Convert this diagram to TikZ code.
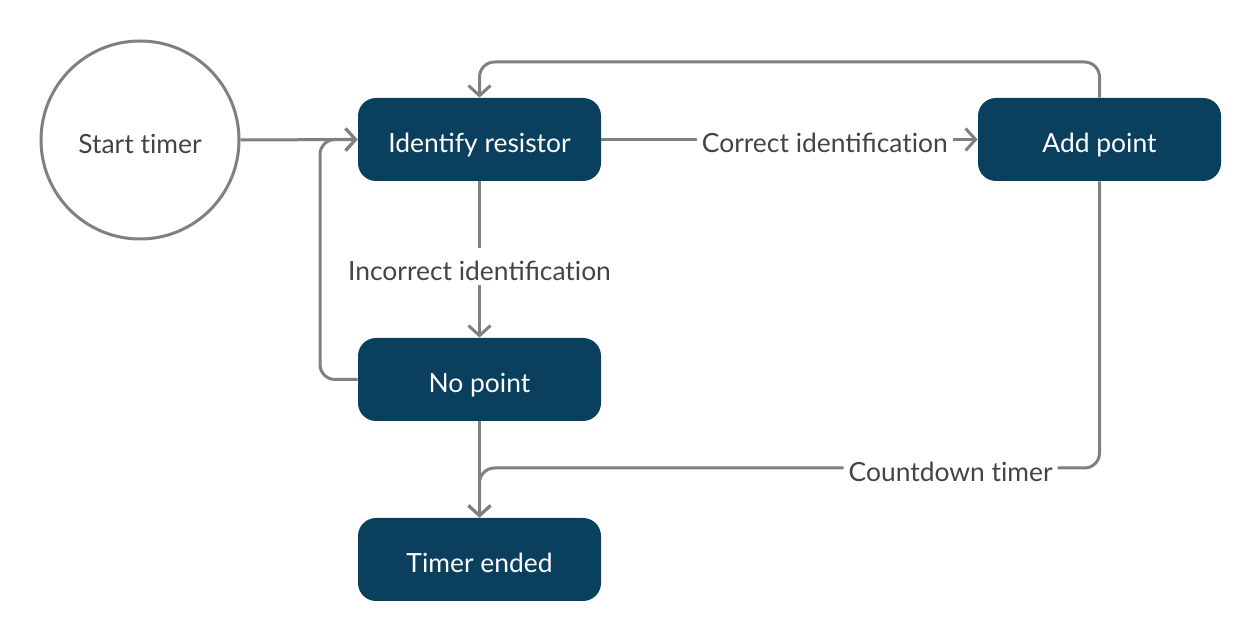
\documentclass[tikz,border=0pt]{standalone}
\usepackage{fontspec}
\setmainfont{Lato}
\usetikzlibrary{arrows.meta}
\definecolor{boxblue}{HTML}{0A3F5E}
\definecolor{linegray}{HTML}{808080}
\definecolor{txtgray}{HTML}{444444}
\newcommand{\tbrk}{t\kern0pt }
\begin{document}
\begin{tikzpicture}[x=0.5pt,y=-0.5pt,
  statebox/.style={draw=none,fill=boxblue,rounded corners=9pt,minimum width=121.5pt,minimum height=41.5pt,text=white,font=\fontsize{13.2}{15}\selectfont,inner sep=0pt,text depth=0pt,text height=13.5pt},
  startcirc/.style={circle,draw=linegray,line width=1.5pt,minimum size=99pt,inner sep=0pt,text=txtgray,font=\fontsize{13.2}{15}\selectfont,text depth=0pt,text height=13.5pt},
  conn/.style={draw=linegray,line width=1.5pt,rounded corners=7.5pt,-{Straight Barb[length=5pt,width=11pt]}},
  lbl/.style={fill=white,text=txtgray,font=\fontsize{13.2}{15}\selectfont,inner sep=2.5pt,text depth=0pt,text height=13.5pt}]
\useasboundingbox (0,0) rectangle (1260,640);
\node[startcirc] (st) at (140,140) {Start \tbrk imer};
\node[statebox] (id) at (479.5,139.5) {Identify resistor};
\node[statebox] (ap) at (1099.5,139.5) {Add point};
\node[statebox] (np) at (479.5,379.5) {No point};
\node[statebox] (te) at (479.5,559.5) {Timer ended};
\draw[conn] (st.east) -- (id.west);
\draw[conn] (id.east) -- node[lbl,pos=0.594] {Correct identifica\tbrk ion} (ap.west);
\draw[conn] (id.south) -- node[lbl,pos=0.545] {Incorrect identifica\tbrk ion} (np.north);
\draw[conn] (np.west) -- (320,379.5) -- (320,139.5) -- (id.west);
\draw[conn] (ap.north) -- (1099.5,62) -- (479.5,62) -- (id.north);
\draw[conn] (ap.south) -- (1099.5,468) -- node[lbl,pos=0.24] {Countdown \tbrk imer} (479.5,468) -- (te.north);
\draw[conn] (np.south) -- (te.north);
\end{tikzpicture}
\end{document}
